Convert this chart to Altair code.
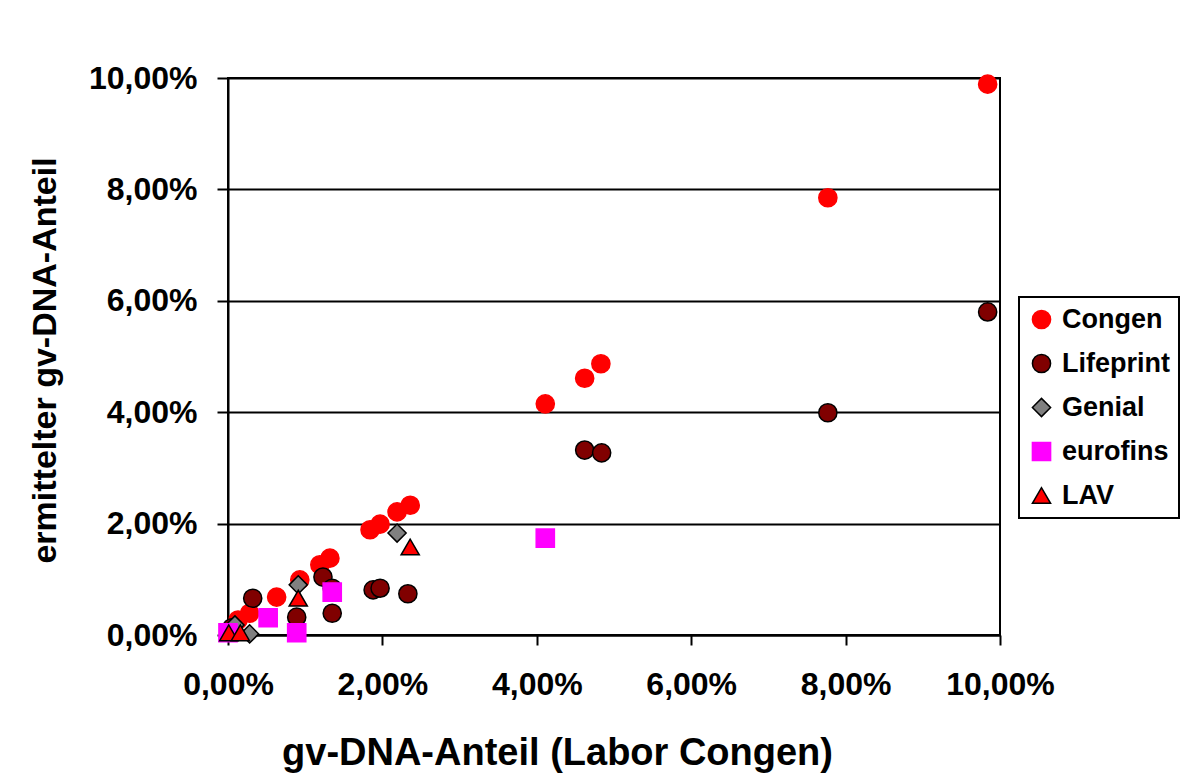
import altair as alt
import pandas as pd

series_names = ["Congen", "Lifeprint", "Genial", "eurofins", "LAV"]
series_fill = ["#FF0000", "#800000", "#808080", "#FF00FF", "#FF0000"]
series_stroke = ["#FF0000", "#000000", "#000000", "#FF00FF", "#000000"]
series_shape = ["circle", "circle", "diamond", "square", "triangle-up"]
series_size = [330, 330, 460, 400, 520]

congen_x = [0.03, 0.13, 0.28, 0.63, 0.93, 1.19, 1.32, 1.84, 1.97, 2.19, 2.36, 4.11, 4.62, 4.83, 7.77, 9.84]
congen_y = [0.09, 0.27, 0.39, 0.68, 0.99, 1.26, 1.38, 1.89, 1.99, 2.21, 2.33, 4.15, 4.61, 4.87, 7.85, 9.89]

lifeprint_x = [0.05, 0.32, 0.89, 1.23, 1.35, 1.35, 1.88, 1.97, 2.33, 4.62, 4.84, 7.77, 9.84]
lifeprint_y = [0.13, 0.66, 0.32, 1.04, 0.84, 0.39, 0.81, 0.84, 0.74, 3.32, 3.27, 3.99, 5.80]

genial_x = [0.09, 0.28, 0.91, 2.19]
genial_y = [0.18, 0.02, 0.90, 1.83]

eurofins_x = [0.00, 0.52, 0.89, 1.35, 4.11]
eurofins_y = [0.04, 0.31, 0.04, 0.77, 1.74]

lav_x = [0.01, 0.16, 0.91, 2.36]
lav_y = [0.04, 0.04, 0.66, 1.58]

tick_values = [0, 2, 4, 6, 8, 10]

rows = []
for name, xs, ys in [
    ("Congen", congen_x, congen_y),
    ("Lifeprint", lifeprint_x, lifeprint_y),
    ("Genial", genial_x, genial_y),
    ("eurofins", eurofins_x, eurofins_y),
    ("LAV", lav_x, lav_y),
]:
    for a, b in zip(xs, ys):
        rows.append({"Labor": name, "x": a, "y": b, "order": series_names.index(name)})
df = pd.DataFrame(rows)

label_expr = "replace(format(datum.value, '.2f'), '.', ',') + '%'"
FONT = "Liberation Sans"

chart = (
    alt.Chart(df)
    .mark_point(filled=True, opacity=1, strokeWidth=1.5)
    .encode(
        x=alt.X(
            "x:Q",
            scale=alt.Scale(domain=[0, 10], nice=False, zero=True),
            axis=alt.Axis(
                values=tick_values,
                labelExpr=label_expr,
                grid=False,
                tickSize=10,
                labelPadding=24,
                labelFlush=False,
                labelOverlap=False,
                title="gv-DNA-Anteil (Labor Congen)",
                titleFontSize=38,
                titleX=329,
                titleY=118,
                titleAlign="center",
                titleBaseline="middle",
            ),
        ),
        y=alt.Y(
            "y:Q",
            scale=alt.Scale(domain=[0, 10], nice=False, zero=True),
            axis=alt.Axis(
                values=tick_values,
                labelExpr=label_expr,
                grid=True,
                tickSize=11,
                labelPadding=20,
                labelFlush=False,
                labelOverlap=False,
                title="ermittelter gv-DNA-Anteil",
                titleFontSize=34,
                titleAngle=270,
                titleX=-183,
                titleY=282,
                titleAlign="center",
                titleBaseline="middle",
            ),
        ),
        color=alt.Color(
            "Labor:N",
            scale=alt.Scale(domain=series_names, range=series_fill),
            sort=series_names,
            legend=alt.Legend(
                title=None,
                orient="none",
                legendX=791,
                legendY=219,
                labelFont=FONT,
                labelFontWeight="bold",
                labelFontSize=27,
                labelColor="#000000",
                symbolSize=230,
                symbolStrokeWidth=1.5,
                labelOffset=7,
                fillColor="#FFFFFF",
            ),
        ),
        stroke=alt.Stroke(
            "Labor:N",
            scale=alt.Scale(domain=series_names, range=series_stroke),
            sort=series_names,
        ),
        shape=alt.Shape(
            "Labor:N",
            scale=alt.Scale(domain=series_names, range=series_shape),
            sort=series_names,
        ),
        size=alt.Size(
            "Labor:N",
            scale=alt.Scale(domain=series_names, range=series_size),
            legend=None,
        ),
        order=alt.Order("order:Q"),
    )
    .properties(
        width=772,
        height=557,
        autosize=alt.AutoSizeParams(type="none"),
        padding={"left": 220, "top": 70, "right": 181, "bottom": 138},
        background="#FFFFFF",
    )
    .configure_view(stroke="#000000", strokeWidth=2, fill="#FFFFFF")
    .configure_legend(
        strokeColor="#000000",
        strokeWidth=2,
        padding=9,
        rowPadding=16,
    )
    .configure_axis(
        domainColor="#000000",
        domainWidth=2,
        gridColor="#000000",
        gridWidth=2,
        gridOpacity=1,
        tickColor="#000000",
        tickWidth=2,
        labelFont=FONT,
        labelFontWeight="bold",
        labelFontSize=32,
        labelColor="#000000",
        titleFont=FONT,
        titleFontWeight="bold",
        titleColor="#000000",
    )
)

chart.save("out.html", embed_options={"renderer": "svg", "actions": False})
